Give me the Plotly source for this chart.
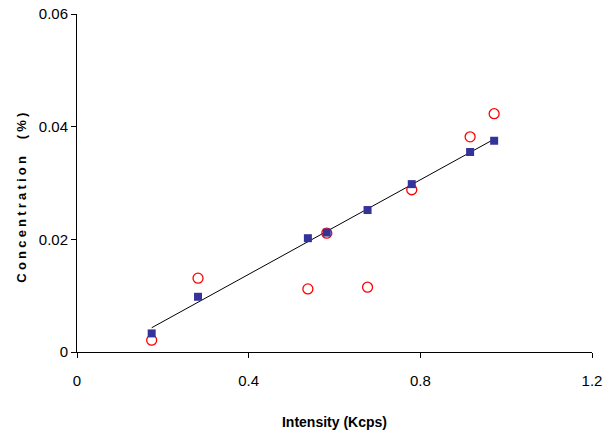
import numpy as np
import plotly.graph_objects as go

# Data
intensity = [0.174, 0.282, 0.538, 0.582, 0.677, 0.780, 0.916, 0.972]
conc_std = [0.0033, 0.0098, 0.0202, 0.0212, 0.0252, 0.0298, 0.0355, 0.0375]
conc_meas = [0.0021, 0.0131, 0.0112, 0.0211, 0.0115, 0.0288, 0.0382, 0.0423]

x_ticks = [0, 0.4, 0.8, 1.2]
x_ticklabels = ["0", "0.4", "0.8", "1.2"]
y_ticks = [0, 0.02, 0.04, 0.06]
y_ticklabels = ["0", "0.02", "0.04", "0.06"]

slope, intercept = np.polyfit(intensity, conc_std, 1)
fit_x = [min(intensity), max(intensity)]
fit_y = [slope * v + intercept for v in fit_x]

fig = go.Figure()
fig.add_trace(go.Scatter(x=fit_x, y=fit_y, mode="lines",
                         line=dict(color="black", width=1), showlegend=False))
fig.add_trace(go.Scatter(x=intensity, y=conc_meas, mode="markers",
                         marker=dict(symbol="circle-open", size=10, color="#ff0000",
                                     line=dict(width=1.3, color="#ff0000")),
                         showlegend=False))
fig.add_trace(go.Scatter(x=intensity, y=conc_std, mode="markers",
                         marker=dict(symbol="square", size=8, color="#333399",
                                     line=dict(width=0)),
                         showlegend=False))

axis_common = dict(showgrid=False, zeroline=False, showline=True, linecolor="black",
                   linewidth=1, ticks="outside", ticklen=5, tickcolor="black",
                   automargin=False,
                   tickfont=dict(family="Arial, Liberation Sans", size=15, color="black"))

fig.update_layout(
    width=610, height=433,
    margin=dict(l=77, r=18, t=14, b=81),
    paper_bgcolor="white", plot_bgcolor="white",
    xaxis=dict(range=[0, 1.2], tickvals=x_ticks, ticktext=x_ticklabels,
               ticklabelstandoff=10,
               title=dict(text="<b>Intensity (Kcps)</b>", standoff=29,
                          font=dict(family="Arial, Liberation Sans", size=14, color="black")),
               **axis_common),
    yaxis=dict(range=[0, 0.06], tickvals=y_ticks, ticktext=y_ticklabels,
               **axis_common),
    annotations=[dict(text="<b>Concentration  (%)</b>", textangle=-90,
                      xref="paper", yref="paper", x=-0.109, y=0.4615,
                      xanchor="center", yanchor="middle", showarrow=False,
                      font=dict(family="Arial, Liberation Sans", size=13, color="black"))],
)

post = """
var t = document.querySelector('.annotation-text');
if (t) { t.style.letterSpacing = '3.2px'; }
"""
fig.write_html("out.html", post_script=post)
